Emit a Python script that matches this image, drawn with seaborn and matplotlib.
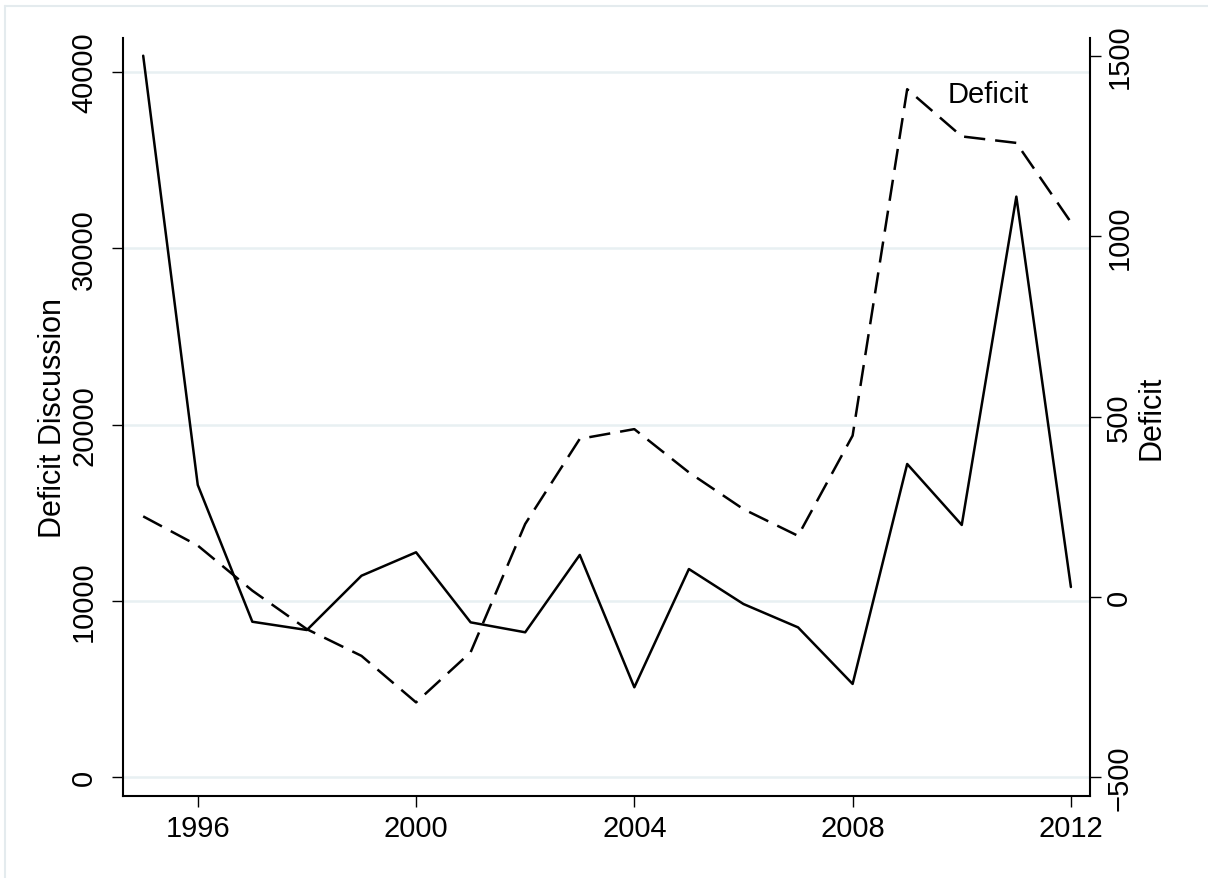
import matplotlib
matplotlib.use("Agg")
import matplotlib.pyplot as plt
from matplotlib.lines import Line2D
import seaborn as sns
import pandas as pd

# Annual series
years = list(range(1995, 2013))
discussion = [40925, 16570, 8810, 8340, 11420, 12750, 8775, 8210, 12600,
              5090, 11800, 9815, 8490, 5280, 17760, 14300, 32930, 10780]
deficit = [223, 142, 17, -90, -164, -293, -154, 202, 438,
           465, 345, 243, 169, 447, 1408, 1277, 1259, 1039]

left_ticks = [0, 10000, 20000, 30000, 40000]
right_ticks = [-500, 0, 500, 1000, 1500]
x_ticks = [1996, 2000, 2004, 2008, 2012]

df = pd.DataFrame({"year": years, "discussion": discussion, "deficit": deficit})

sns.set_theme(style="white")
plt.rcParams["font.family"] = ["Liberation Sans", "DejaVu Sans"]

fig = plt.figure(figsize=(12.08, 8.79), dpi=100)
ax = fig.add_axes([123 / 1208, 82 / 879, (1090 - 123) / 1208, (797 - 39) / 879])
ax2 = ax.twinx()

sns.lineplot(data=df, x="year", y="discussion", ax=ax, color="black",
             linewidth=1.8)
sns.lineplot(data=df, x="year", y="deficit", ax=ax2, color="black",
             linewidth=1.8)
ax2.lines[0].set_dashes([8.5, 4])

ax.set_xlim(1994.63, 2012.35)
ax.set_ylim(-1078, 41930)
ax2.set_ylim(-552.7, 1550)

grid_color = "#e8f0f2"
for v in left_ticks:
    ax.axhline(v, color=grid_color, linewidth=1.8, zorder=0)

ax.set_xticks(x_ticks)
ax.set_yticks(left_ticks)
ax2.set_yticks(right_ticks)
ax.set_xticklabels([str(t) for t in x_ticks])
ax.set_yticklabels([str(t) for t in left_ticks], rotation=90, va="center")
ax2.set_yticklabels([str(t).replace("-", "\u2212") for t in right_ticks],
                    rotation=90, va="center")

fs = 21
ax.tick_params(axis="x", direction="out", length=8, width=1.0, pad=5,
               labelsize=fs, colors="black", bottom=True)
ax.tick_params(axis="y", direction="out", length=8, width=1.0, pad=10,
               labelsize=fs, colors="black", left=True)
ax2.tick_params(axis="y", direction="out", length=8, width=1.0, pad=3,
                labelsize=fs, colors="black", right=True)

ax.set_xlabel("")
ax.set_ylabel("Deficit Discussion", fontsize=22, color="black", labelpad=1.5)
ax2.set_ylabel("Deficit", fontsize=22, color="black", labelpad=2.5)

for a in (ax, ax2):
    a.spines["top"].set_visible(False)
    for s in ("left", "right", "bottom"):
        a.spines[s].set_color("black")
        a.spines[s].set_linewidth(1.5)
ax.spines["right"].set_visible(False)
ax2.spines["left"].set_visible(False)
ax2.spines["bottom"].set_visible(False)

ax2.text(2009.75, 1394, "Deficit", fontsize=fs, color="black",
         ha="left", va="center")

# light outer frame
frame = "#e4ebee"
fig.add_artist(Line2D([5 / 1208, 5 / 1208], [0, 1 - 7 / 879],
                      transform=fig.transFigure, color=frame, linewidth=1.5))
fig.add_artist(Line2D([5 / 1208, 1], [1 - 7 / 879, 1 - 7 / 879],
                      transform=fig.transFigure, color=frame, linewidth=1.5))

fig.savefig("out.png", dpi=100)
